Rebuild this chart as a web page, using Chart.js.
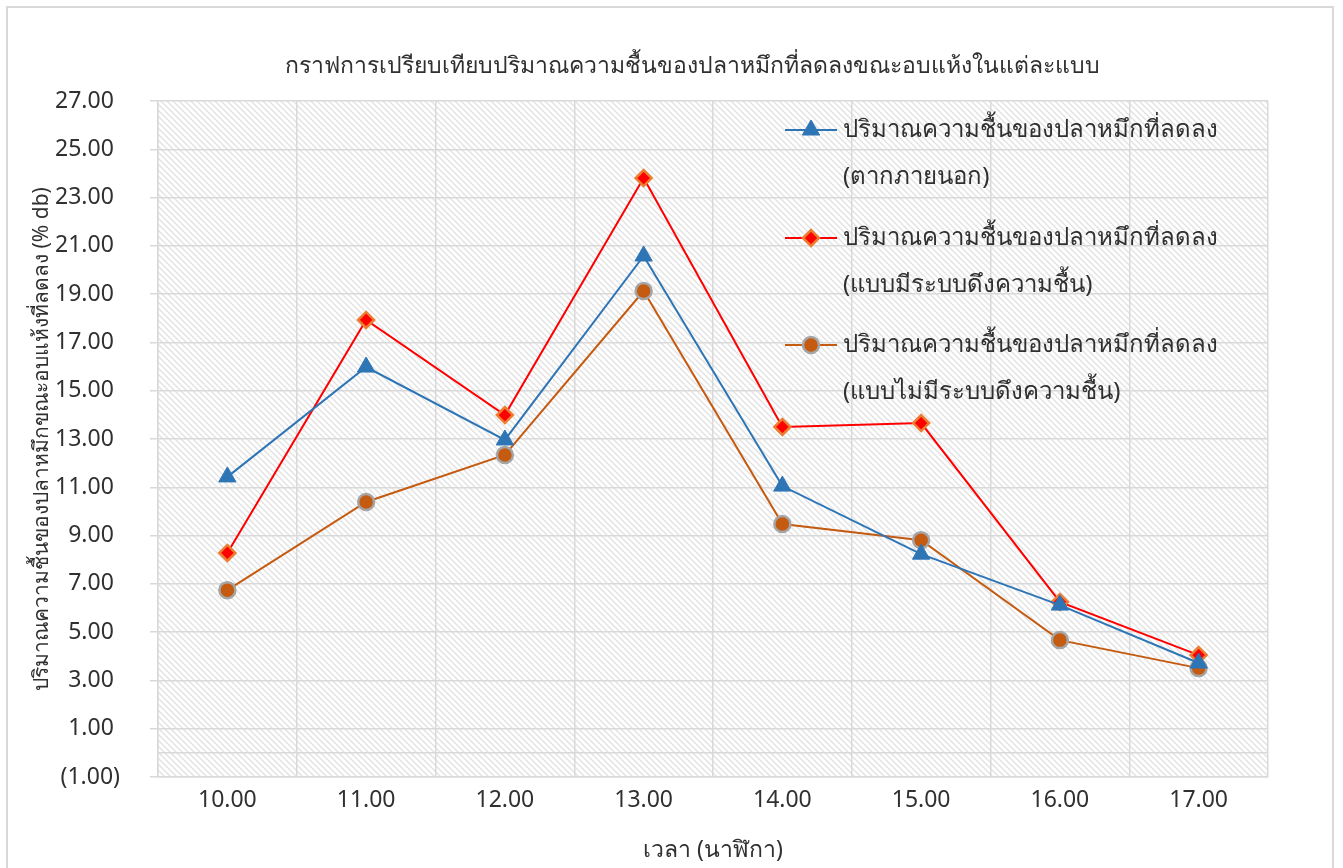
<!DOCTYPE html>
<html>
<head>
<meta charset="utf-8">
<script src="https://cdn.jsdelivr.net/npm/chart.js@4.4.1/dist/chart.umd.min.js"></script>
<style>
  html, body { margin: 0; padding: 0; background: #fff; }
  #wrap { position: relative; width: 1343px; height: 868px; }
  #frame { position: absolute; left: 6px; top: 6px; width: 1328px; height: 870px;
           border: 2px solid #d9d9d9; box-sizing: border-box; pointer-events: none; }
</style>
</head>
<body>
<div id="wrap">
  <canvas id="chartHumedad"></canvas>
  <div id="frame"></div>
</div>
<script>
// datos
var horas = ['10.00', '11.00', '12.00', '13.00', '14.00', '15.00', '16.00', '17.00'];
var secadoExterior = [11.43, 15.98, 12.96, 20.58, 11.05, 8.23, 6.12, 3.72];
var conDeshumidificador = [8.28, 17.93, 13.99, 23.81, 13.50, 13.66, 6.25, 4.05];
var sinDeshumidificador = [6.74, 10.39, 12.34, 19.13, 9.48, 8.81, 4.67, 3.51];

var etiquetas = [
    ['ปริมาณความชื้นของปลาหมึกที่ลดลง', '(ตากภายนอก)'],
    ['ปริมาณความชื้นของปลาหมึกที่ลดลง', '(แบบมีระบบดึงความชื้น)'],
    ['ปริมาณความชื้นของปลาหมึกที่ลดลง', '(แบบไม่มีระบบดึงความชื้น)']
];
var titulo = 'กราฟการเปรียบเทียบปริมาณความชื้นของปลาหมึกที่ลดลงขณะอบแห้งในแต่ละแบบ';
var tituloY = 'ปริมาณความชื้นของปลาหมึกขณะอบแห้งที่ลดลง (% db)';
var tituloX = 'เวลา (นาฬิกา)';

var FUENTE = "'Noto Sans', 'DejaVu Sans', sans-serif";
var GRIS = '#d9d9d9';
var TEXTO = '#303030';

// trama diagonal del fondo
function crearTrama() {
    var c = document.createElement('canvas');
    c.width = 6; c.height = 6;
    var g = c.getContext('2d');
    g.fillStyle = '#ffffff';
    g.fillRect(0, 0, 6, 6);
    g.strokeStyle = '#e2e2e2';
    g.lineWidth = 1.4;
    g.beginPath();
    g.moveTo(-1, -1); g.lineTo(7, 7);
    g.moveTo(-4, 2); g.lineTo(4, 10);
    g.moveTo(2, -4); g.lineTo(10, 4);
    g.stroke();
    return c;
}

var fondoTrama = {
    id: 'fondoTrama',
    beforeDraw: function(chart) {
        var a = chart.chartArea, ctx = chart.ctx;
        ctx.save();
        ctx.fillStyle = ctx.createPattern(crearTrama(), 'repeat');
        ctx.fillRect(a.left, a.top, a.right - a.left, a.bottom - a.top);
        ctx.restore();
    },
    beforeDatasetsDraw: function(chart) {
        // linea del eje horizontal en cero
        var a = chart.chartArea, ctx = chart.ctx;
        var y0 = chart.scales.y.getPixelForValue(0);
        ctx.save();
        ctx.strokeStyle = GRIS;
        ctx.lineWidth = 1.5;
        ctx.beginPath();
        ctx.moveTo(a.left, y0); ctx.lineTo(a.right, y0);
        ctx.stroke();
        ctx.restore();
    }
};

var leyendaInterna = {
    id: 'leyendaInterna',
    afterDraw: function(chart) {
        var ctx = chart.ctx;
        var x0 = 785, xTexto = 843;
        var ys = [130, 238, 345];
        ctx.save();
        // titulo del grafico
        ctx.fillStyle = TEXTO;
        ctx.font = '23px ' + FUENTE;
        ctx.textAlign = 'center';
        ctx.textBaseline = 'middle';
        ctx.fillText(titulo, 692, 66);

        chart.data.datasets.forEach(function(ds, i) {
            var y = ys[i];
            ctx.strokeStyle = ds.borderColor;
            ctx.lineWidth = 2;
            ctx.beginPath();
            ctx.moveTo(x0, y); ctx.lineTo(x0 + 52, y);
            ctx.stroke();
            ctx.fillStyle = ds.pointBackgroundColor;
            ctx.strokeStyle = ds.pointBorderColor;
            ctx.lineWidth = ds.pointBorderWidth;
            Chart.helpers.drawPoint(ctx, { pointStyle: ds.pointStyle, radius: ds.pointRadius, rotation: 0, borderWidth: ds.pointBorderWidth }, x0 + 26, y);
            ctx.fillStyle = TEXTO;
            ctx.font = '24px ' + FUENTE;
            ctx.textAlign = 'left';
            ctx.textBaseline = 'middle';
            etiquetas[i].forEach(function(t, k) {
                ctx.fillText(t, xTexto, y + k * 47);
            });
        });
        ctx.restore();
    }
};

var ctx = document.getElementById('chartHumedad');
var chartHumedad = new Chart(ctx, {
    type: 'line',
    data: {
        labels: horas,
        datasets: [
            { label: etiquetas[0].join(' '), data: secadoExterior, borderColor: '#2e75b6', borderWidth: 2,
              pointStyle: 'triangle', pointRadius: 10, pointBackgroundColor: '#2e75b6', pointBorderColor: '#2e75b6', pointBorderWidth: 1 },
            { label: etiquetas[1].join(' '), data: conDeshumidificador, borderColor: '#ff0000', borderWidth: 2,
              pointStyle: 'rectRot', pointRadius: 8, pointBackgroundColor: '#ff0000', pointBorderColor: '#ed7d31', pointBorderWidth: 2.5 },
            { label: etiquetas[2].join(' '), data: sinDeshumidificador, borderColor: '#c55a11', borderWidth: 2,
              pointStyle: 'circle', pointRadius: 8, pointBackgroundColor: '#c55a11', pointBorderColor: '#a5a5a5', pointBorderWidth: 2.5 }
        ]
    },
    options: {
        responsive: true, maintainAspectRatio: false, animation: false,
        layout: { padding: { left: 29, right: 75, top: 101, bottom: 0 } },
        plugins: {
            legend: { display: false },
            tooltip: { enabled: false },
            title: { display: false }
        },
        scales: {
            x: {
                offset: true,
                grid: { offset: true, color: GRIS, lineWidth: 1.5, drawTicks: false },
                border: { color: GRIS, width: 1.5 },
                ticks: { color: TEXTO, font: { family: FUENTE, size: 23 }, padding: 10 },
                title: { display: true, text: tituloX, color: TEXTO, font: { family: FUENTE, size: 23 }, padding: { top: 6 } },
                afterFit: function(s) { s.height = 91; }
            },
            y: {
                min: -1, max: 27,
                ticks: { stepSize: 2, color: TEXTO, font: { family: FUENTE, size: 23 }, padding: 30,
                         callback: function(v) { return v < 0 ? '(' + Math.abs(v).toFixed(2) + ')' : v.toFixed(2) + '\u2008'; } },
                grid: { color: GRIS, lineWidth: 1.5, tickLength: 8 },
                border: { color: GRIS, width: 1.5 },
                title: { display: true, text: tituloY, color: TEXTO, font: { family: FUENTE, size: 21 }, padding: 0 },
                afterFit: function(s) { s.width = 158 - 29; }
            }
        }
    },
    plugins: [fondoTrama, leyendaInterna]
});
</script>
</body>
</html>
